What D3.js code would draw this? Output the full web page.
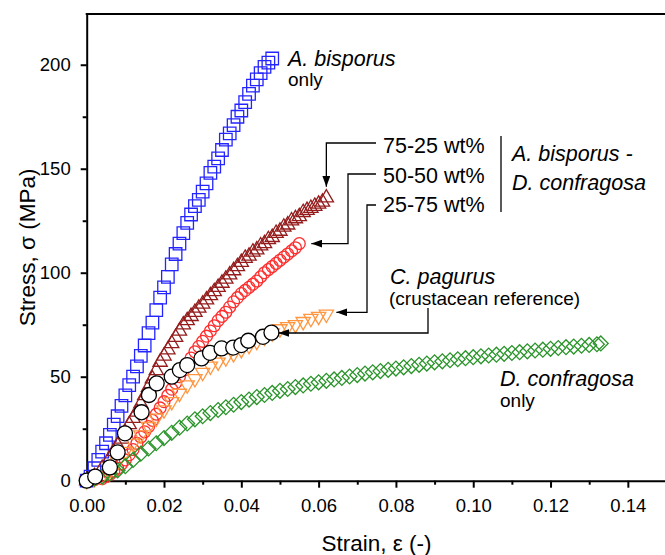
<!DOCTYPE html>
<html>
<head>
<meta charset="utf-8">
<script src="https://cdn.jsdelivr.net/npm/d3@7"></script>
<style>
  body { margin: 0; background: #fff; }
  text { font-family: "Liberation Sans", Arial, sans-serif; fill: #000; }
</style>
</head>
<body>
<script>
// strain (-), stress (MPa)
var bisporus = [[0,0],[0.001,2],[0.002,6],[0.003,10],[0.004,14],[0.005,18],[0.006,22],[0.007,27],[0.008,31],[0.009,36],
  [0.010,41],[0.011,46],[0.012,50],[0.013,55],[0.014,60],[0.015,65],[0.016,71],[0.017,76],[0.018,82],[0.019,88],
  [0.020,93],[0.021,98],[0.022,104],[0.023,109],[0.024,114],[0.025,119],[0.026,124],[0.027,128],[0.028,132],[0.029,135],
  [0.030,139],[0.031,143],[0.032,148],[0.033,151],[0.034,155],[0.035,159],[0.036,164],[0.037,167],[0.038,171],[0.039,175],
  [0.040,178],[0.041,182],[0.042,186],[0.043,190],[0.044,193],[0.045,196],[0.046,199],[0.047,201],[0.048,203]];

var mix7525 = [[0,0],[0.002,2],[0.004,6],[0.006,11],[0.007,14],[0.008,17],[0.009,20],[0.010,23],[0.011,27],[0.012,30],
  [0.013,33],[0.014,37],[0.015,41],[0.016,45],[0.017,49],[0.018,53],[0.019,57],[0.020,60],[0.021,63],[0.022,66],
  [0.023,69],[0.024,72],[0.025,75],[0.026,77],[0.027,79],[0.028,81],[0.029,83],[0.030,85],[0.031,87],[0.032,89],
  [0.033,91],[0.034,93],[0.035,95],[0.036,97],[0.037,99],[0.038,101],[0.039,103],[0.040,105],[0.041,107],[0.042,108],
  [0.043,110],[0.044,111],[0.045,113],[0.046,114],[0.047,116],[0.048,117],[0.049,119],[0.050,120],[0.051,122],[0.052,123],
  [0.053,125],[0.054,126],[0.055,127],[0.056,129],[0.057,130],[0.058,131],[0.059,132],[0.060,133],[0.061,134],[0.062,136]];

var mix5050 = [[0,0],[0.002,0.5],[0.004,1],[0.005,2],[0.006,3],[0.007,4.5],[0.008,6],[0.009,8],[0.010,10],[0.011,12.5],
  [0.012,15],[0.013,18],[0.014,21],[0.015,23.5],[0.016,26],[0.017,29],[0.018,32],[0.019,35],[0.020,38],[0.021,41],
  [0.022,44],[0.023,47],[0.024,50],[0.025,53],[0.026,56],[0.027,59],[0.028,62],[0.029,64.5],[0.030,67],[0.031,69.5],
  [0.032,72],[0.033,74.5],[0.034,77],[0.035,79],[0.036,81],[0.037,83.5],[0.038,86],[0.039,88],[0.040,90],[0.041,91.5],
  [0.042,93],[0.043,94.5],[0.044,96],[0.045,98],[0.046,100],[0.047,101.5],[0.048,103],[0.049,104.5],[0.050,106],
  [0.051,107.5],[0.052,109],[0.053,110.5],[0.054,112],[0.055,114]];

var mix2575 = [[0,0],[0.002,1],[0.004,2],[0.006,5],[0.008,9],[0.010,14],[0.012,18],[0.014,22],[0.016,26],[0.018,30],
  [0.020,34],[0.022,38],[0.024,42],[0.026,46],[0.028,49],[0.030,52],[0.032,55],[0.034,57],[0.036,59],[0.038,61],
  [0.040,63],[0.042,65],[0.044,67],[0.046,69],[0.048,71],[0.050,73],[0.052,74],[0.054,75],[0.056,76.5],[0.058,78],
  [0.060,79],[0.062,80]];

var confragosa = [[0,0],[0.002,1],[0.004,2],[0.006,3.5],[0.008,5],[0.010,7],[0.012,10],[0.014,13],[0.016,15.5],[0.018,18],
  [0.020,20.5],[0.022,23],[0.024,25.5],[0.026,27.5],[0.028,29.5],[0.030,31],[0.032,32.5],[0.034,34],[0.036,35.3],[0.038,36.5],
  [0.040,37.8],[0.042,39],[0.044,40.2],[0.046,41.2],[0.048,42.2],[0.050,43.2],[0.052,44.1],[0.054,45],[0.056,45.8],[0.058,46.6],
  [0.060,47.3],[0.062,48],[0.064,48.7],[0.066,49.4],[0.068,50.1],[0.070,50.8],[0.072,51.5],[0.074,52.1],[0.076,52.7],[0.078,53.3],
  [0.080,53.9],[0.082,54.5],[0.084,55.1],[0.086,55.7],[0.088,56.3],[0.090,56.9],[0.092,57.4],[0.094,57.9],[0.096,58.4],[0.098,58.9],
  [0.100,59.4],[0.102,59.8],[0.104,60.2],[0.106,60.6],[0.108,61.0],[0.110,61.4],[0.112,61.8],[0.114,62.2],[0.116,62.6],[0.118,63.0],
  [0.120,63.4],[0.122,63.8],[0.124,64.2],[0.126,64.5],[0.128,64.9],[0.130,65.3],[0.132,65.6],[0.133,66]];

var pagurus = [[0,0],[0.0022,2],[0.006,6.4],[0.008,13.6],[0.0099,22.8],[0.0142,32.9],[0.0161,41.2],[0.0181,46.8],[0.022,50],
  [0.0241,53.2],[0.026,55.6],[0.0297,58.8],[0.0319,61.5],[0.0349,63.6],[0.0379,64],[0.040,65.2],[0.0418,67.3],[0.0456,69.2],[0.0478,71.2]];

var xMajor = [0, 0.02, 0.04, 0.06, 0.08, 0.10, 0.12, 0.14];
var xMinor = [0.01, 0.03, 0.05, 0.07, 0.09, 0.11, 0.13];
var yMajor = [0, 50, 100, 150, 200];
var yMinor = [25, 75, 125, 175];

var W = 665, H = 555;
var svg = d3.select("body").append("svg").attr("width", W).attr("height", H);

var x = d3.scaleLinear().domain([0, 0.15]).range([86.7, 666.5]);
var y = d3.scaleLinear().domain([0, 224.4]).range([480.7, 14]);

// axes
var gx = svg.append("g").attr("transform", "translate(0," + y(0) + ")")
  .call(d3.axisBottom(x).tickValues(xMajor).tickSize(7).tickSizeOuter(0).tickFormat(d3.format(".2f")));
gx.append("g").call(d3.axisBottom(x).tickValues(xMinor).tickSize(4).tickSizeOuter(0).tickFormat(""))
  .select(".domain").remove();
gx.selectAll("text").attr("y", 31).attr("dy", null).style("font-size", "18.5px");

var gy = svg.append("g").attr("transform", "translate(" + x(0) + ",0)")
  .call(d3.axisLeft(y).tickValues(yMajor).tickSize(6).tickSizeOuter(0));
gy.append("g").call(d3.axisLeft(y).tickValues(yMinor).tickSize(4).tickSizeOuter(0).tickFormat(""))
  .select(".domain").remove();
gy.selectAll("text").attr("x", -16).style("font-size", "18.5px");

svg.selectAll(".domain, .tick line").attr("stroke", "#000").attr("stroke-width", 2);
svg.selectAll(".tick text").attr("fill", "#000").style("font-family", "'Liberation Sans', Arial, sans-serif");

svg.append("line").attr("x1", x(0) - 1).attr("x2", x(0.15)).attr("y1", y(224.4)).attr("y2", y(224.4))
  .attr("stroke", "#000").attr("stroke-width", 2);

svg.append("text").attr("x", (x(0) + x(0.15)) / 2).attr("y", 551).attr("text-anchor", "middle")
  .style("font-size", "22.5px").text("Strain, \u03b5 (-)");
svg.append("text").attr("transform", "translate(35," + (y(0) + y(224.4)) / 2 + ") rotate(-90)")
  .attr("text-anchor", "middle").style("font-size", "22.5px").text("Stress, \u03c3 (MPa)");

// markers
function series(data, path, color, fill, rot) {
  svg.append("g").selectAll("path").data(data).enter().append("path")
    .attr("d", path)
    .attr("transform", function (d) { return "translate(" + x(d[0]) + "," + y(d[1]) + ")" + (rot ? " rotate(" + rot + ")" : ""); })
    .attr("fill", fill).attr("stroke", color).attr("stroke-width", 1.3);
}
series(bisporus, d3.symbol(d3.symbolSquare, 156)(), "#2424ff", "none", 0);
series(mix7525, d3.symbol(d3.symbolTriangle, 88)(), "#941c1c", "none", 0);
series(mix5050, d3.symbol(d3.symbolCircle, 110)(), "#ff2e2e", "none", 0);
series(mix2575, d3.symbol(d3.symbolTriangle, 88)(), "#ff9640", "none", 180);
series(confragosa, d3.symbol(d3.symbolSquare, 110)(), "#2a942a", "none", 45);
series(pagurus, d3.symbol(d3.symbolCircle, 177)(), "#000", "#fff", 0);

// annotations
svg.append("defs").append("marker").attr("id", "ah")
  .attr("markerUnits", "userSpaceOnUse").attr("markerWidth", 12).attr("markerHeight", 8)
  .attr("refX", 11).attr("refY", 4).attr("orient", "auto")
  .append("path").attr("d", "M0,0L11,4L0,8Z").attr("fill", "#000");

function arrow(pts) {
  svg.append("path").attr("d", d3.line()(pts)).attr("fill", "none")
    .attr("stroke", "#000").attr("stroke-width", 1.3).attr("marker-end", "url(#ah)");
}
var e1 = mix7525[mix7525.length - 1], e2 = mix5050[mix5050.length - 1],
    e3 = mix2575[mix2575.length - 1], e4 = pagurus[pagurus.length - 1];
arrow([[376, 143], [x(e1[0]), 143], [x(e1[0]), y(e1[1]) - 11]]);
arrow([[376, 174], [348, 174], [348, y(e2[1])], [x(e2[0]) + 12, y(e2[1])]]);
arrow([[376, 205], [367, 205], [367, y(e3[1]) - 2], [x(e3[0]) + 10, y(e3[1]) - 2]]);
arrow([[428, 308], [428, 333], [x(e4[0]) + 7, 333]]);

svg.append("line").attr("x1", 501).attr("x2", 501).attr("y1", 136).attr("y2", 212)
  .attr("stroke", "#000").attr("stroke-width", 1.3);

function label(tx, ty, str, size, italic) {
  svg.append("text").attr("x", tx).attr("y", ty).style("font-size", size + "px")
    .style("font-style", italic ? "italic" : "normal").text(str);
}
label(288, 66, "A. bisporus", 21.5, true);
label(288, 86, "only", 19, false);
label(383, 153, "75-25 wt%", 21.5, false);
label(383, 183, "50-50 wt%", 21.5, false);
label(383, 212, "25-75 wt%", 21.5, false);
label(512, 161, "A. bisporus -", 21.5, true);
label(512, 190, "D. confragosa", 21.5, true);
label(390, 284, "C. pagurus", 21.5, true);
label(389, 305, "(crustacean reference)", 19, false);
label(500, 386, "D. confragosa", 21.5, true);
label(500, 407, "only", 19, false);
</script>
</body>
</html>
